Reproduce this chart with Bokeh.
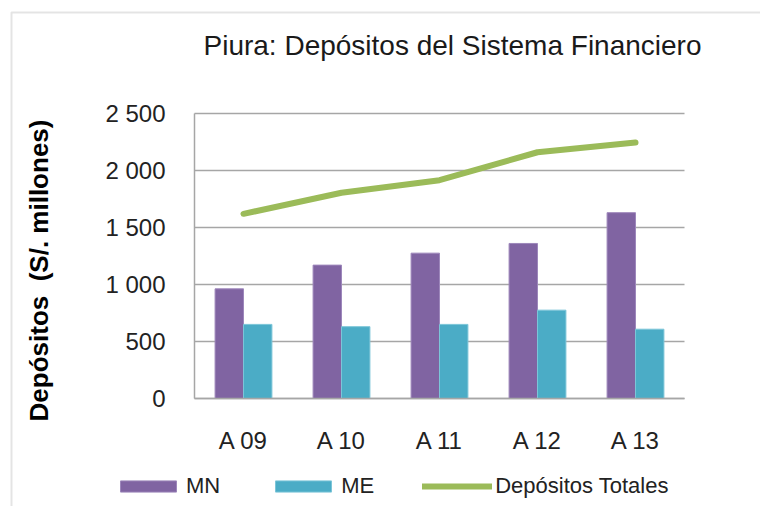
import math
from bokeh.plotting import figure
from bokeh.models import (Range1d, ColumnDataSource, FixedTicker, Legend, LegendItem,
                          Label, BoxAnnotation)
from bokeh.transform import dodge
from bokeh.embed import file_html
from bokeh.resources import INLINE

# ---- data ----
categories = ["A 09", "A 10", "A 11", "A 12", "A 13"]
mn_values = [962, 1170, 1275, 1360, 1630]
me_values = [650, 630, 650, 775, 608]
total_values = [1620, 1805, 1915, 2160, 2245]
y_ticks = [0, 500, 1000, 1500, 2000, 2500]
y_tick_labels = ["0", "500", "1 000", "1 500", "2 000", "2 500"]
series_names = ["MN", "ME", "Depósitos Totales"]
title_text = "Piura: Depósitos del Sistema Financiero"
y_title = "Depósitos \u00a0(S/. millones)"

FONT = "Liberation Sans"
GRID = "#a6a6a6"

# ---- layout geometry (pixels) ----
W, H = 760, 506
PLOT_L, PLOT_R, PLOT_T, PLOT_B = 194, 684, 113, 398
n = len(categories)
y_max = y_ticks[-1]
px_per_x = (PLOT_R - PLOT_L) / n
px_per_y = (PLOT_B - PLOT_T) / y_max
x_start = -0.5 - PLOT_L / px_per_x
x_end = -0.5 + (W - PLOT_L) / px_per_x
y_start = -(H - PLOT_B) / px_per_y
y_end = y_max + PLOT_T / px_per_y

xs = list(range(n))
src = ColumnDataSource(dict(x=xs, mn=mn_values, me=me_values, tot=total_values))

p = figure(x_range=Range1d(x_start, x_end), y_range=Range1d(y_start, y_end),
           width=W, height=H, output_backend="svg", toolbar_location=None,
           min_border_left=0, min_border_right=0, min_border_top=0, min_border_bottom=0)

p.outline_line_color = None
p.background_fill_color = "white"
p.border_fill_color = "white"

# horizontal grid lines only over the category span
p.xgrid.grid_line_color = None
p.ygrid.grid_line_color = None
p.segment(x0=[-0.5] * len(y_ticks), x1=[n - 0.5] * len(y_ticks), y0=y_ticks, y1=y_ticks,
          line_color=GRID, line_width=1.5)

p.yaxis.ticker = FixedTicker(ticks=y_ticks)
p.yaxis.major_label_overrides = {t: l for t, l in zip(y_ticks, y_tick_labels)}
p.xaxis.ticker = FixedTicker(ticks=xs)
p.xaxis.major_label_overrides = {i: c for i, c in zip(xs, categories)}
p.yaxis.fixed_location = -0.5
p.yaxis.bounds = (0, y_max)
p.xaxis.fixed_location = 0
p.xaxis.bounds = (-0.5, n - 0.5)
for ax in (p.xaxis[0], p.yaxis[0]):
    ax.axis_line_color = GRID
    ax.axis_line_width = 1.5
    ax.major_tick_line_color = None
    ax.minor_tick_line_color = None
    ax.major_tick_out = 0
    ax.major_tick_in = 0
    ax.minor_tick_out = 0
    ax.minor_tick_in = 0
    ax.major_label_text_font = FONT
    ax.major_label_text_font_size = "24px"
    ax.major_label_text_color = "#222222"
p.yaxis.major_label_standoff = 29
p.xaxis.major_label_standoff = 28

r_mn = p.vbar(x=dodge("x", -0.145), top="mn", width=0.29, source=src,
              fill_color="#8064A2", line_color="#9d87bb", line_width=1)
r_me = p.vbar(x=dodge("x", 0.145), top="me", width=0.29, source=src,
              fill_color="#4BACC6", line_color="#7cc5d8", line_width=1)
r_tot = p.line(x="x", y="tot", source=src, line_width=6, line_color="#9BBB59",
               line_cap="round", line_join="round")

legend = Legend(items=[LegendItem(label=series_names[0], renderers=[r_mn]),
                       LegendItem(label=series_names[1], renderers=[r_me]),
                       LegendItem(label=series_names[2], renderers=[r_tot])],
                orientation="horizontal", location=(113, 7),
                glyph_width=70, glyph_height=14, label_standoff=3, spacing=48,
                padding=0, margin=0, border_line_color=None, background_fill_alpha=0,
                label_text_font=FONT, label_text_font_size="22px", label_text_color="#222222")
p.add_layout(legend, "center")

title = Label(x=452, y=H - 45, x_units="screen", y_units="screen", text=title_text,
              text_font=FONT, text_font_size="28px", text_color="#1a1a1a",
              text_align="center", text_baseline="middle")
p.add_layout(title)

ylab = Label(x=38, y=H - 270, x_units="screen", y_units="screen", text=y_title,
             angle=math.pi / 2, text_font=FONT, text_font_size="26px",
             text_font_style="bold", text_color="black",
             text_align="center", text_baseline="middle")
p.add_layout(ylab)

frame_box = BoxAnnotation(left=11, right=3000, top=12, bottom=3000,
                          left_units="canvas", right_units="canvas",
                          top_units="canvas", bottom_units="canvas",
                          fill_alpha=0, line_color="#a6a6a6", line_width=2)
p.add_layout(frame_box)

open("out.html", "w").write(file_html(p, INLINE))
